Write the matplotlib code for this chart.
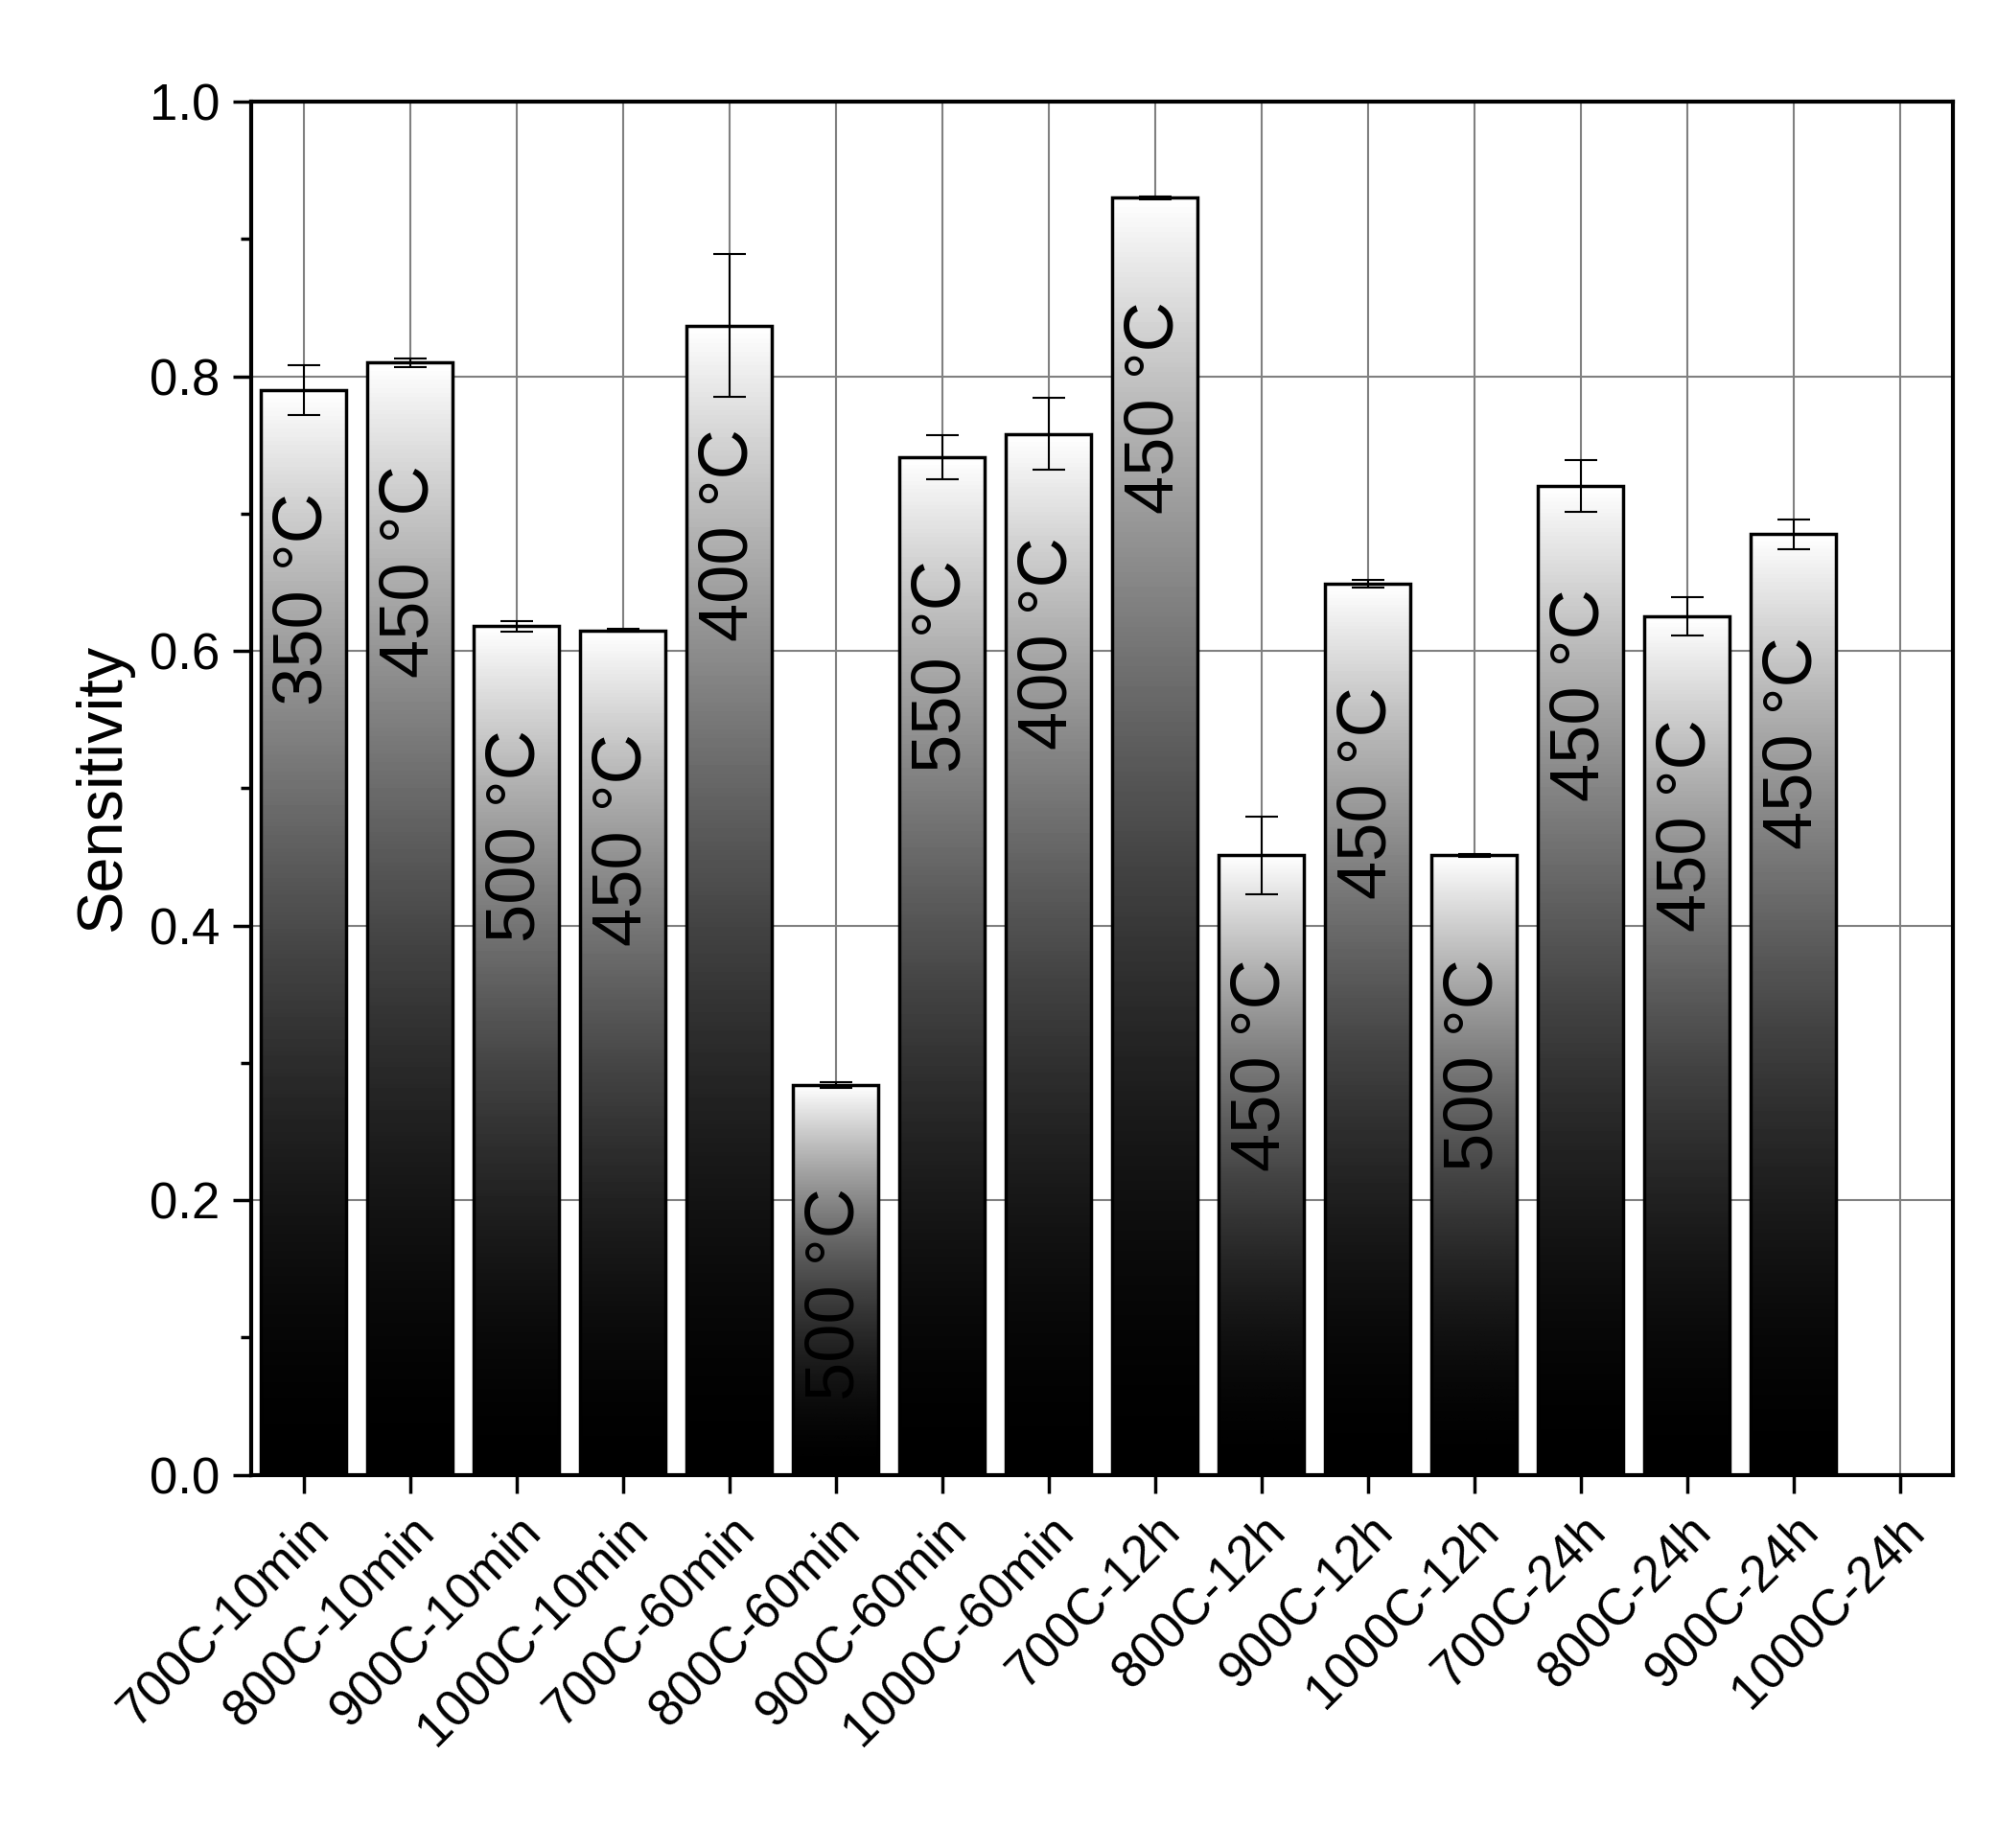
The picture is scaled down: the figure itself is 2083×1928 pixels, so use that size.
import numpy as np
import matplotlib
matplotlib.use("Agg")
import matplotlib.pyplot as plt
from matplotlib.patches import Rectangle

categories = ["700C-10min", "800C-10min", "900C-10min", "1000C-10min",
              "700C-60min", "800C-60min", "900C-60min", "1000C-60min",
              "700C-12h", "800C-12h", "900C-12h", "1000C-12h",
              "700C-24h", "800C-24h", "900C-24h", "1000C-24h"]
sensitivity = [0.790, 0.810, 0.618, 0.615, 0.837, 0.284, 0.741, 0.758,
               0.930, 0.451, 0.649, 0.451, 0.720, 0.625, 0.685, np.nan]
errors = [0.018, 0.003, 0.004, 0.001, 0.052, 0.002, 0.016, 0.026,
          0.001, 0.028, 0.003, 0.001, 0.019, 0.014, 0.011, np.nan]
temps = ["350 °C", "450 °C", "500 °C", "450 °C", "400 °C", "500 °C", "550 °C", "400 °C",
         "450 °C", "450 °C", "450 °C", "500 °C", "450 °C", "450 °C", "450 °C", ""]

plt.rcParams["font.family"] = ["Liberation Sans", "DejaVu Sans"]

fig = plt.figure(figsize=(20.83, 19.28), dpi=100)
ax = fig.add_axes([0.126, 0.202, 0.852, 0.743])

x = np.arange(len(categories))
width = 0.8
gradient = (np.linspace(0, 1, 256) ** 1.8).reshape(-1, 1)

for xi, v, e, t in zip(x, sensitivity, errors, temps):
    if np.isnan(v):
        continue
    rect = Rectangle((xi - width / 2, 0), width, v, facecolor="none",
                     edgecolor="black", linewidth=2.5, zorder=4)
    ax.add_patch(rect)
    im = ax.imshow(gradient, cmap="gray", aspect="auto", origin="lower",
                   extent=(xi - width / 2, xi + width / 2, 0, v), zorder=3)
    im.set_clip_path(rect)
    ax.errorbar(xi, v, yerr=e, color="black", capsize=12, linewidth=1.5,
                capthick=1.5, zorder=5)
    ax.text(xi, v - 0.075, t, rotation=90, ha="center", va="top",
            fontsize=52, color="black", zorder=6)

ax.set_xlim(-0.49, 15.5)
ax.set_ylim(0, 1.0)
ax.set_xticks(x)
ax.set_xticklabels(categories, rotation=45, ha="right", rotation_mode="anchor",
                   fontsize=38)
ax.set_yticks(np.arange(0, 1.01, 0.2))
ax.set_yticklabels([f"{v:.1f}" for v in np.arange(0, 1.01, 0.2)], fontsize=38)
ax.set_yticks(np.arange(0.1, 1.0, 0.2), minor=True)
ax.tick_params(axis="both", which="major", length=14, width=2.5, direction="out", pad=10)
ax.tick_params(axis="y", which="minor", length=8, width=2.5, direction="out")
ax.grid(True, color="gray", linewidth=1.5, zorder=0)
ax.set_axisbelow(True)
for s in ax.spines.values():
    s.set_linewidth(3)
ax.set_ylabel("Sensitivity", fontsize=48, labelpad=12)

fig.savefig("out.png", dpi=100)
